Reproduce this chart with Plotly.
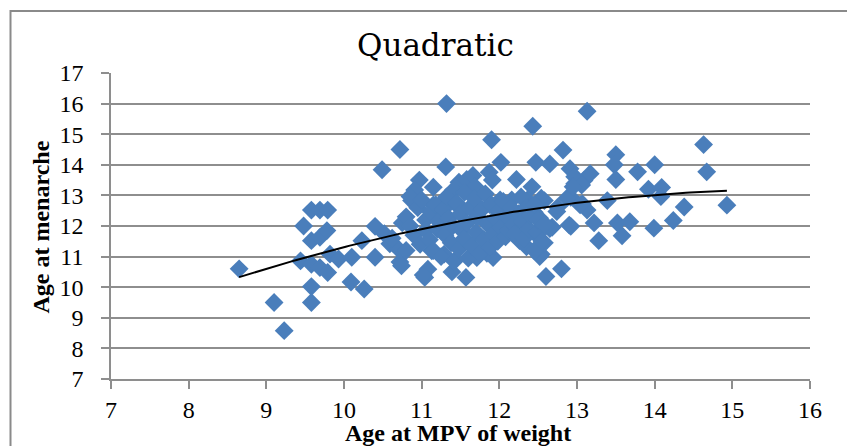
import numpy as np
import plotly.graph_objects as go

# Age at MPV of weight (x) and age at menarche (y)
mpv_age = [
    8.65, 9.10, 9.23, 9.58, 9.58, 9.48, 9.58, 9.69, 9.79, 9.58, 9.69, 9.78,
    9.44, 9.58, 9.69, 9.79, 9.82, 9.93, 10.09, 10.10, 10.26, 10.23, 10.40, 10.40,
    10.49, 10.72, 10.52, 10.59, 10.70, 10.72, 10.74, 10.62, 10.75, 10.80,
    10.87, 10.97, 10.91, 10.85, 11.04, 11.08, 11.02, 11.15, 11.13, 11.32, 11.31, 11.39,
    11.29, 11.57, 11.48, 11.58, 11.66, 11.41, 11.69, 11.71, 11.87, 11.90, 11.91, 11.92,
    11.84, 12.02, 12.22, 12.26, 12.23, 12.43, 12.42, 12.47, 12.65, 12.54, 12.60, 12.58,
    12.82, 12.80, 12.68, 12.75, 12.91, 12.92, 12.92, 12.97, 13.09, 13.07, 13.13, 13.17,
    13.22, 13.28, 13.13, 13.39, 13.50, 13.48, 13.50, 13.52, 13.58, 13.68, 13.78, 13.92,
    14.00, 13.99, 14.09, 14.08, 14.24, 14.38, 14.63, 14.67, 14.93, 12.87, 13.04, 12.74,
    12.90, 12.65, 12.52, 12.54, 11.15, 11.24, 11.45, 11.71, 11.88, 12.01, 12.16, 12.36,
    12.35, 12.48, 12.45, 12.52, 12.60, 12.48, 12.58, 12.45, 12.97, 13.06, 12.95,
    10.80, 10.85, 10.90, 10.95, 10.98, 11.00, 11.05, 11.05, 11.10, 11.12, 11.15, 11.18,
    11.20, 11.22, 11.25, 11.28, 11.30, 11.32, 11.35, 11.38, 11.40, 11.42, 11.45, 11.48,
    11.50, 11.52, 11.55, 11.55, 11.58, 11.60, 11.62, 11.65, 11.68, 11.70, 11.72, 11.75,
    11.78, 11.80, 11.82, 11.85, 11.88, 11.90, 11.92, 11.95, 11.98, 12.00, 12.02, 12.05,
    12.08, 12.10, 12.12, 12.15, 12.18, 12.20, 12.25, 12.28, 12.30, 12.32, 12.35, 12.38,
    12.40, 12.45, 12.48, 12.50, 12.55, 12.58,
]
menarche_age = [
    10.60, 9.50, 8.58, 9.50, 10.02, 12.00, 12.52, 12.52, 12.52, 11.52, 11.63, 11.85,
    10.86, 10.75, 10.64, 10.48, 11.08, 10.92, 10.17, 10.98, 9.94, 11.52, 10.98, 11.99,
    13.84, 14.50, 11.75, 11.42, 11.25, 10.82, 10.70, 11.60, 12.10, 11.20,
    12.83, 13.50, 13.18, 12.96, 10.32, 10.59, 10.40, 13.27, 11.19, 16.00, 13.93, 10.50,
    11.08, 10.32, 13.43, 13.52, 13.65, 13.18, 13.28, 10.97, 13.76, 14.82, 13.50, 10.97,
    11.11, 14.08, 13.52, 11.52, 11.74, 15.26, 13.28, 14.08, 14.03, 11.08, 10.35, 12.83,
    14.48, 10.60, 11.96, 12.61, 13.87, 12.94, 11.99, 13.38, 13.49, 12.72, 15.75, 13.71,
    12.10, 11.52, 12.52, 12.83, 14.33, 14.00, 13.52, 12.10, 11.68, 12.14, 13.77, 13.20,
    14.00, 11.93, 13.26, 12.96, 12.18, 12.62, 14.66, 13.77, 12.68, 12.91, 12.69, 12.47,
    12.03, 11.92, 11.00, 12.91, 12.69, 12.69, 12.69, 12.69, 12.69, 12.85, 12.85, 12.85,
    11.32, 11.22, 12.45, 12.25, 12.00, 11.70, 11.45, 11.20, 13.61, 13.34, 13.28,
    12.30, 12.00, 11.70, 12.60, 11.40, 12.85, 12.20, 11.85, 11.55, 12.45, 11.20, 12.70,
    11.90, 12.15, 11.00, 12.55, 11.70, 12.95, 12.25, 11.45, 12.00, 10.85, 12.75, 11.25,
    12.40, 11.85, 13.10, 11.60, 12.10, 10.95, 12.60, 11.35, 12.90, 11.80, 12.30, 11.10,
    12.55, 11.55, 13.05, 12.05, 11.30, 12.70, 11.75, 12.25, 11.50, 12.50, 11.95, 12.80,
    11.65, 12.30, 11.85, 12.60, 12.05, 11.75, 12.40, 12.95, 12.15, 11.60, 12.60, 11.90,
    12.35, 12.70, 11.80, 12.20, 11.50, 12.05,
]

x_ticks = [7, 8, 9, 10, 11, 12, 13, 14, 15, 16]
y_ticks = [7, 8, 9, 10, 11, 12, 13, 14, 15, 16, 17]

title_text = "Quadratic"
x_title = "Age at MPV of weight"
y_title = "Age at menarche"

# Quadratic trend line fitted to the data (as the spreadsheet trendline does)
coef = np.polyfit(mpv_age, menarche_age, 2)
trend_x = np.linspace(min(mpv_age), max(mpv_age), 120)
trend_y = np.polyval(coef, trend_x)

GRID = "#8e8e8e"
BLUE = "#4A7EBB"

fig = go.Figure()
fig.add_trace(go.Scatter(
    x=mpv_age, y=menarche_age, mode="markers",
    marker=dict(symbol="diamond", size=14.5, color=BLUE, line=dict(width=0)),
    hoverinfo="skip",
))
fig.add_trace(go.Scatter(
    x=trend_x, y=trend_y, mode="lines",
    line=dict(color="black", width=2),
    hoverinfo="skip",
))

L, R, T, B = 111, 37, 73, 67
W, H = 847, 446
pw, ph = W - L - R, H - T - B

def px_to_paper_x(px):
    return (px - L) / pw

def px_to_paper_y(py):
    return (H - B - py) / ph

fig.update_layout(
    width=W, height=H,
    margin=dict(l=L, r=R, t=T, b=B),
    paper_bgcolor="white", plot_bgcolor="white",
    showlegend=False,
    xaxis=dict(
        range=[7, 16], tickmode="array", tickvals=x_ticks,
        ticktext=[str(v) for v in x_ticks],
        showgrid=False, zeroline=False,
        showline=True, linecolor=GRID, linewidth=1.5,
        ticks="outside", ticklen=8, tickwidth=1.5, tickcolor=GRID,
        tickfont=dict(family="Liberation Serif", size=24, color="black"),
    ),
    yaxis=dict(
        range=[7, 17], tickmode="array", tickvals=y_ticks,
        ticktext=[str(v) for v in y_ticks],
        showgrid=True, gridcolor=GRID, gridwidth=1.5, zeroline=False,
        showline=True, linecolor=GRID, linewidth=1.5,
        ticks="outside", ticklen=8, tickwidth=1.5, tickcolor=GRID,
        ticklabelstandoff=13,
        tickfont=dict(family="Liberation Serif", size=24, color="black"),
    ),
    shapes=[dict(
        type="rect", xref="paper", yref="paper",
        x0=px_to_paper_x(10.5), x1=px_to_paper_x(860),
        y0=px_to_paper_y(470), y1=px_to_paper_y(11),
        line=dict(color="#8a8a8a", width=2), fillcolor="rgba(0,0,0,0)",
        layer="below",
    )],
    annotations=[
        dict(text=title_text, xref="paper", yref="paper",
             x=px_to_paper_x(435), y=px_to_paper_y(45),
             xanchor="center", yanchor="middle", showarrow=False,
             font=dict(family="DejaVu Serif", size=31, color="black")),
        dict(text=f"<b>{x_title}</b>", xref="paper", yref="paper",
             x=px_to_paper_x(457.5), y=px_to_paper_y(433),
             xanchor="center", yanchor="middle", showarrow=False,
             font=dict(family="Liberation Serif", size=24, color="black")),
        dict(text=f"<b>{y_title}</b>", xref="paper", yref="paper",
             x=px_to_paper_x(40), y=px_to_paper_y(227.5),
             xanchor="center", yanchor="middle", showarrow=False,
             textangle=-90,
             font=dict(family="Liberation Serif", size=24, color="black")),
    ],
)

fig.write_html("out.html")
